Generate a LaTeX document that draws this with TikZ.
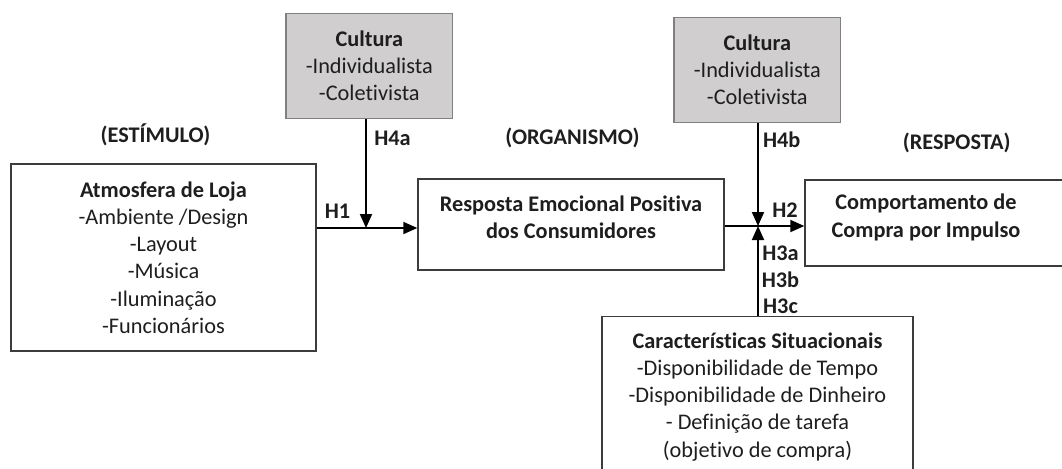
\documentclass[tikz,border=0pt]{standalone}
\usepackage{fontspec}
\setmainfont{Carlito}[Ligatures={NoCommon}]
\usepackage{tikz}
\usetikzlibrary{arrows.meta}

\definecolor{kulturgrau}{RGB}{208,206,206}
\definecolor{rahmen}{RGB}{60,60,60}
\definecolor{schrift}{RGB}{30,30,30}

\begin{document}
\begin{tikzpicture}[%show background rectangle,
        x=0.02cm, y=-0.02cm,
        font=\fontsize{12.7}{15.5}\selectfont, text=schrift,
        box/.style={draw=rahmen, line width=0.85pt, align=center, inner sep=0pt},
        kultur/.style={box, draw=gray, fill=kulturgrau},
        txt/.style={align=center, inner sep=0pt},
        stufe/.style={font=\fontsize{12.7}{15.5}\selectfont\bfseries},
        hyp/.style={font=\fontsize{12.7}{15.5}\selectfont\bfseries},
        pfeil/.style={line width=1.1pt, draw=black, -{Triangle[length=0.28cm, width=0.24cm]}},
        >=latex % Voreinstellung für Pfeilspitzen
        ]
            \useasboundingbox (0,0) rectangle (1062,468);

            % Bloecke
            \node[box, minimum width=6.1cm, minimum height=3.74cm] (atm) at (163.5,257.5)
                {\textbf{Atmosfera de Loja}\\-Ambiente /Design\\-Layout\\-Música\\-Iluminação\\-Funcionários};
            \node[box, minimum width=6.12cm, minimum height=1.82cm] (resp) at (571,224.7) {};
            \node[txt] (resptxt) at (571,217.5)
                {\textbf{Resposta Emocional Positiva}\\\textbf{dos Consumidores}};
            \node[box, minimum width=5.4cm, minimum height=1.72cm] (comp) at (940,223) {};
            \node[txt] (comptxt) at (926,217.5)
                {\textbf{Comportamento de}\\\textbf{Compra por Impulso}};
            \node[box, minimum width=6.22cm, minimum height=3.2cm] (sit) at (757.5,396.7)
                {\textbf{Características Situacionais}\\-Disponibilidade de Tempo\\-Disponibilidade de Dinheiro\\- Definição de tarefa\\(objetivo de compra)};
            \node[kultur, minimum width=3.33cm, minimum height=2.1cm] (cult1) at (369.3,65.8)
                {\textbf{Cultura}\\-Individualista\\-Coletivista};
            \node[kultur, minimum width=3.33cm, minimum height=2.11cm] (cult2) at (757.3,70)
                {\textbf{Cultura}\\-Individualista\\-Coletivista};

            % Knoten
            \coordinate (j1) at (366,228);
            \coordinate (j2) at (758,226);

            % Pfeile
            \draw[pfeil] (j1 -| atm.east) -- (j1 -| resp.west);
            \draw[pfeil] (cult1.south -| j1) -- (j1);
            \draw[pfeil] (j2 -| resp.east) -- (j2 -| comp.west);
            \draw[pfeil] (cult2.south -| j2) -- (j2);
            \draw[pfeil] (sit.north -| j2) -- (j2);

            % Beschriftungen
            \node[stufe] (estimulo) at (155.5,135) {(ESTÍMULO)};
            \node[stufe] (organismo) at (572.5,138.3) {(ORGANISMO)};
            \node[stufe] (resposta) at (956.7,143.3) {(RESPOSTA)};

            \node[hyp] (h1) at (337.5,211.7) {H1};
            \node[hyp] (h4a) at (392.5,138) {H4a};
            \node[hyp] (h4b) at (781.7,140) {H4b};
            \node[hyp] (h2) at (785,210) {H2};
            \node[hyp] (h3a) at (780.5,253.3) {H3a};
            \node[hyp] (h3b) at (780.5,280) {H3b};
            \node[hyp] (h3c) at (780.5,306.7) {H3c};

        \end{tikzpicture}
\end{document}
